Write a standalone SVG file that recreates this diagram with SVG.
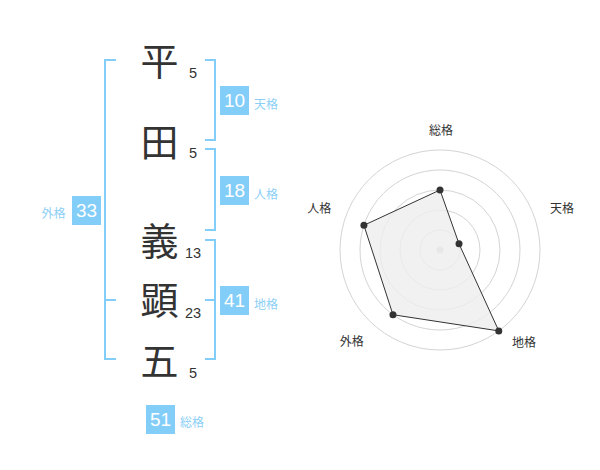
<svg xmlns="http://www.w3.org/2000/svg" width="600" height="470" viewBox="0 0 600 470">
<style>
.kanji{font-family:"Noto Sans CJK JP","Noto Sans CJK SC",sans-serif;font-size:38px;fill:#333;text-anchor:middle}
.strk{font-family:"Liberation Sans",Arial,sans-serif;font-size:14.5px;fill:#333;text-anchor:middle}
.br{fill:none;stroke:#83cdf9;stroke-width:2}
.box{fill:#83cdf9}
.bnum{font-family:"Liberation Sans",Arial,sans-serif;font-size:19px;fill:#fff;text-anchor:middle}
.blab{font-family:"Liberation Sans","Noto Sans CJK JP",sans-serif;font-size:12px;fill:#8ccff6}
.ring{fill:none;stroke:#d4d4d4;stroke-width:1}
.rlab{font-family:"Liberation Sans","Noto Sans CJK JP",sans-serif;font-size:12px;fill:#333;text-anchor:middle}
.pt{fill:#333}
</style>
<rect width="600" height="470" fill="#fff"/>
<g id="name">
<g id="c1"><text class="kanji" x="159.5" y="74.5">平</text><text class="strk" x="193" y="78">5</text></g>
<g id="c2"><text class="kanji" x="159.5" y="155.5">田</text><text class="strk" x="193" y="158">5</text></g>
<g id="c3"><text class="kanji" x="159.5" y="255">義</text><text class="strk" x="193" y="257.5">13</text></g>
<g id="c4"><text class="kanji" x="159.5" y="314">顕</text><text class="strk" x="193" y="317.7">23</text></g>
<g id="c5"><text class="kanji" x="159.5" y="374.5">五</text><text class="strk" x="193" y="377.7">5</text></g>
</g>
<g id="connectors">
<path class="br" d="M116,60 H105 V359 H116 M105,300 H116"/>
<path class="br" d="M205,60 H215 V140 H205"/>
<path class="br" d="M205,149 H215 V230 H205"/>
<path class="br" d="M205,240 H215 V359 H205 M215,300 H205"/>
</g>
<g id="tenkaku"><rect class="box" x="220" y="86" width="29" height="29"/><text class="bnum" x="234.5" y="107.3">10</text><text class="blab" x="254" y="108.6">天格</text></g>
<g id="jinkaku"><rect class="box" x="220" y="176" width="29" height="29"/><text class="bnum" x="234.5" y="197.1">18</text><text class="blab" x="254" y="198.6">人格</text></g>
<g id="chikaku"><rect class="box" x="220" y="286" width="29" height="29"/><text class="bnum" x="234.5" y="307.3">41</text><text class="blab" x="254" y="308.9">地格</text></g>
<g id="gaikaku"><rect class="box" x="72" y="196" width="29" height="29"/><text class="bnum" x="86.5" y="217.3">33</text><text class="blab" x="41.5" y="218.2">外格</text></g>
<g id="soukaku"><rect class="box" x="146" y="405" width="29" height="29"/><text class="bnum" x="160.5" y="426.3">51</text><text class="blab" x="180" y="426.6">総格</text></g>
<g id="radar">
<circle class="ring" cx="440" cy="250" r="20"/>
<circle class="ring" cx="440" cy="250" r="40"/>
<circle class="ring" cx="440" cy="250" r="60"/>
<circle class="ring" cx="440" cy="250" r="80"/>
<circle class="ring" cx="440" cy="250" r="100"/>
<circle cx="440" cy="250" r="3.5" fill="#ccc"/>
<polygon points="440,190 459.02,243.82 498.78,330.9 392.98,314.72 363.92,225.28" fill="#eeeeee" fill-opacity="0.8" stroke="#333" stroke-width="1"/>
<circle class="pt" cx="440" cy="190" r="3.5"/>
<circle class="pt" cx="459.02" cy="243.82" r="3.5"/>
<circle class="pt" cx="498.78" cy="330.9" r="3.5"/>
<circle class="pt" cx="392.98" cy="314.72" r="3.5"/>
<circle class="pt" cx="363.92" cy="225.28" r="3.5"/>
<text class="rlab" x="441" y="134.6">総格</text>
<text class="rlab" x="562" y="212.6">天格</text>
<text class="rlab" x="524" y="346.6">地格</text>
<text class="rlab" x="351.7" y="346.3">外格</text>
<text class="rlab" x="319.3" y="213.3">人格</text>
</g>
</svg>
